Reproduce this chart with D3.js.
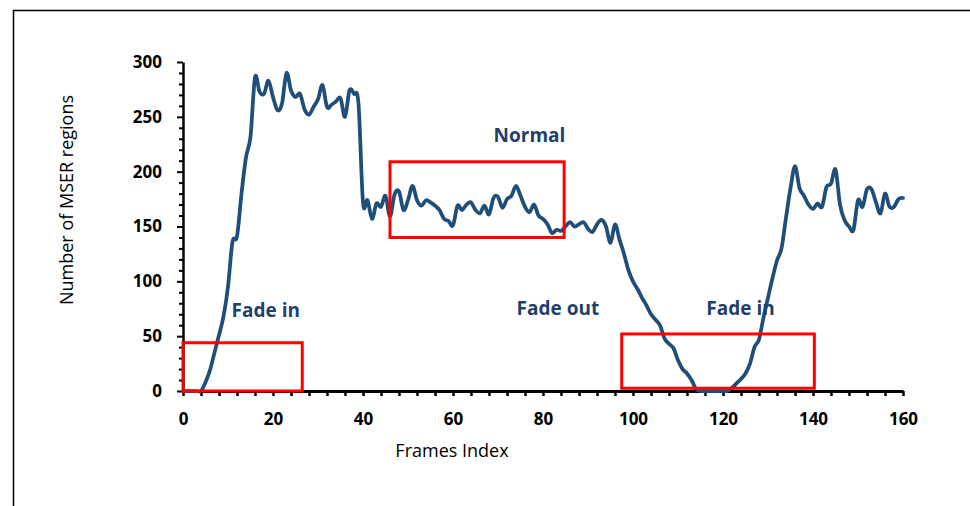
<!DOCTYPE html>
<html>
<head>
<meta charset="utf-8">
<script src="https://cdn.jsdelivr.net/npm/d3@7/dist/d3.min.js"></script>
<style>
  html, body { margin: 0; padding: 0; background: #fff; }
  svg { display: block; }
  text { font-family: "Open Sans", "Noto Sans", sans-serif; }
</style>
</head>
<body>
<svg id="chart" width="970" height="506"></svg>
<script>
// Number of MSER regions detected per frame
const frames = d3.range(0, 161);
const mserCounts = [
  0, 0, 0, 0, 0, 8, 19, 35, 51, 68,
  95, 136, 141, 180, 213, 232, 286, 273, 271, 283,
  268, 256, 262, 290, 274, 268, 271, 257, 252, 259,
  266, 279, 259, 261, 264, 267, 250, 274, 271, 262,
  172, 174, 157, 171, 168, 178, 159, 179, 182, 165,
  174, 187, 174, 169, 174, 172, 169, 165, 157, 155,
  151, 169, 165, 170, 172, 165, 162, 169, 161, 176,
  177, 167, 175, 178, 187, 178, 168, 163, 170, 160,
  157, 152, 144, 147, 146, 150, 154, 150, 152, 154,
  148, 145, 152, 156, 150, 135, 152, 138, 125, 110,
  100, 93, 85, 78, 70, 65, 60, 48, 43, 39,
  28, 20, 16, 10, 2, 0, 0, 0, 0, 0,
  0, 0, 3, 7, 11, 16, 25, 40, 47, 67,
  85, 103, 119, 130, 158, 185, 205, 185, 178, 170,
  166, 171, 168, 186, 189, 202, 170, 156, 150, 147,
  174, 168, 184, 184, 172, 162, 180, 168, 168, 175,
  176
];

// Axis ticks
const xMajorTicks = [0, 20, 40, 60, 80, 100, 120, 140, 160];
const xMinorTicks = d3.range(0, 161, 4);
const yMajorTicks = [0, 50, 100, 150, 200, 250, 300];
const yMinorTicks = d3.range(0, 301, 10);

// Highlighted phases: [frameStart, frameEnd, valueLow, valueHigh]
const phaseBoxes = [
  [0, 26.5, 0, 44],
  [46, 84.7, 140, 209],
  [97.5, 140.3, 2.5, 52]
];
// Phase labels: [text, frame, value]
const phaseLabels = [
  ["Fade in", 18.4, 67.5],
  ["Normal", 77, 227],
  ["Fade out", 83.3, 69.5],
  ["Fade in", 123.9, 69.5]
];

const svg = d3.select("#chart");

// outer frame
svg.append("path")
  .attr("d", "M13.5,506 V10.5 H970")
  .attr("fill", "none")
  .attr("stroke", "#000")
  .attr("stroke-width", 1.5);

const x = d3.scaleLinear().domain([0, 160]).range([183, 903]);
const y = d3.scaleLinear().domain([0, 300]).range([391, 62]);

const lineColor = "#1f4e79";
const labelColor = "#1f3f6e";

// x axis
const xAxis = svg.append("g")
  .attr("transform", `translate(0,${y(0)})`)
  .call(d3.axisBottom(x)
    .tickValues(xMinorTicks)
    .tickSize(5)
    .tickSizeOuter(0)
    .tickFormat(d => xMajorTicks.includes(d) ? d : ""));
xAxis.select(".domain").attr("stroke", "#000").attr("stroke-width", 3);
xAxis.selectAll(".tick line").attr("stroke", "#000").attr("stroke-width", 2.5);
xAxis.selectAll(".tick text")
  .attr("y", 22)
  .attr("fill", "#000")
  .style("font-size", "17px")
  .style("font-weight", "700");

// y axis
const yAxis = svg.append("g")
  .attr("transform", `translate(${x(0)},0)`)
  .call(d3.axisLeft(y)
    .tickValues(yMinorTicks)
    .tickSize(4)
    .tickSizeOuter(0)
    .tickFormat(d => yMajorTicks.includes(d) ? d : ""));
yAxis.select(".domain").attr("stroke", "#000").attr("stroke-width", 2.5);
yAxis.selectAll(".tick line")
  .attr("stroke", "#000")
  .attr("stroke-width", 2)
  .attr("x2", d => yMajorTicks.includes(d) ? -6 : -4);
yAxis.selectAll(".tick text")
  .attr("x", -21)
  .attr("fill", "#000")
  .style("font-size", "17px")
  .style("font-weight", "700");

// axis titles
svg.append("text")
  .attr("x", 452)
  .attr("y", 457)
  .attr("text-anchor", "middle")
  .style("font-size", "18px")
  .attr("fill", "#000")
  .text("Frames Index");

svg.append("text")
  .attr("transform", `translate(73,${(95 + 305) / 2}) rotate(-90)`)
  .attr("text-anchor", "middle")
  .style("font-size", "18px")
  .attr("fill", "#000")
  .text("Number of MSER regions");

// series line (smoothed)
const line = d3.line()
  .x((d, i) => x(frames[i]))
  .y(d => y(d))
  .curve(d3.curveCardinal.tension(0));

svg.append("path")
  .datum(mserCounts)
  .attr("d", line)
  .attr("fill", "none")
  .attr("stroke", lineColor)
  .attr("stroke-width", 3.75)
  .attr("stroke-linejoin", "round")
  .attr("stroke-linecap", "round");

// phase boxes
svg.selectAll("rect.phase")
  .data(phaseBoxes)
  .join("rect")
  .attr("class", "phase")
  .attr("x", d => x(d[0]))
  .attr("y", d => y(d[3]))
  .attr("width", d => x(d[1]) - x(d[0]))
  .attr("height", d => y(d[2]) - y(d[3]))
  .attr("fill", "none")
  .attr("stroke", "#ff0000")
  .attr("stroke-width", 3);

// phase labels
svg.selectAll("text.phase-label")
  .data(phaseLabels)
  .join("text")
  .attr("class", "phase-label")
  .attr("x", d => x(d[1]))
  .attr("y", d => y(d[2]))
  .attr("text-anchor", "middle")
  .attr("fill", labelColor)
  .style("font-size", "19px")
  .style("font-weight", "700")
  .text(d => d[0]);
</script>
</body>
</html>
